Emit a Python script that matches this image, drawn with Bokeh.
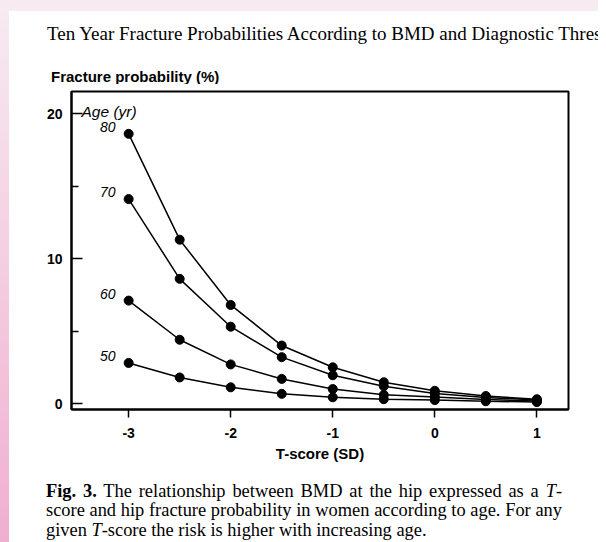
from bokeh.plotting import figure
from bokeh.models import FixedTicker, Label, Range1d, Div
from bokeh.layouts import column
from bokeh.embed import file_html
from bokeh.resources import INLINE
from bokeh.core.properties import value

# ---- data ----
t_score = [-3, -2.5, -2, -1.5, -1, -0.5, 0, 0.5, 1]
age_80 = [18.6, 11.3, 6.8, 4.0, 2.5, 1.47, 0.88, 0.52, 0.30]
age_70 = [14.1, 8.6, 5.3, 3.2, 1.95, 1.2, 0.70, 0.42, 0.24]
age_60 = [7.1, 4.4, 2.7, 1.7, 1.0, 0.6, 0.45, 0.28, 0.17]
age_50 = [2.8, 1.8, 1.12, 0.67, 0.43, 0.30, 0.24, 0.16, 0.10]
series = [("80", age_80), ("70", age_70), ("60", age_60), ("50", age_50)]

x_ticks = [-3, -2, -1, 0, 1]
x_tick_labels = ["-3", "-2", "-1", "0", "1"]
y_ticks = [0, 10, 20]
y_minor_ticks = [5, 15]

title_text = "Ten Year Fracture Probabilities According to BMD and Diagnostic Thresholds"
y_title = "Fracture probability (%)"
x_title = "T-score (SD)"
legend_title = "Age (yr)"
caption_lines = [
    "<b>Fig. 3.</b> The relationship between BMD at the hip expressed as a <i>T</i>-",
    "score and hip fracture probability in women according to age. For any",
    "given <i>T</i>-score the risk is higher with increasing age.",
]

SANS = "Liberation Sans"
SERIF = "Liberation Serif"
W = 598

# page decoration: pale pink top band and a pink strip down the left edge
TOP_BAND = "#f7ebf1"
def strip(c0, c1):
    return f"linear-gradient({c0},{c1}) 0 0/9px 100% no-repeat"

# ---- header (title + y-axis title) ----
header_bg = (f"linear-gradient({TOP_BAND},{TOP_BAND}) 0 0/100% 11px no-repeat, "
             f"{strip('rgb(247,235,241)', 'rgb(246,226,236)')}, white")
header_html = (
    f'<div style="position:relative;width:{W}px;height:84px;overflow:hidden;background:{header_bg}">'
    f'<div style="position:absolute;left:47px;top:23.6px;font-family:\'{SERIF}\';font-size:19px;'
    f'line-height:20px;white-space:nowrap;color:#000">{title_text}</div>'
    f'<div style="position:absolute;left:51px;top:68.3px;font-family:\'{SANS}\';font-weight:bold;'
    f'font-size:15px;line-height:17px;white-space:nowrap;color:#000">{y_title}</div>'
    '</div>'
)
header = Div(text=header_html, width=W, height=84, margin=(0, 0, 0, 0))

# ---- chart ----
p = figure(width=W, height=386, output_backend="svg", toolbar_location=None, title=None,
           x_range=Range1d(-3.56, 1.31), y_range=Range1d(-0.41, 21.52),
           min_border_left=71, min_border_right=30, min_border_top=7,
           min_border_bottom=61, margin=(0, 0, 0, 0))
p.background_fill_color = "white"
p.border_fill_color = None
p.styles = {"background": f"{strip('rgb(246,226,236)', 'rgb(241,183,212)')}, white"}
p.outline_line_color = "black"
p.outline_line_width = 2
p.xgrid.grid_line_color = None
p.ygrid.grid_line_color = None

ya = p.yaxis[0]
ya.ticker = FixedTicker(ticks=y_ticks, minor_ticks=y_minor_ticks)
ya.axis_line_width = 2
ya.major_tick_in = 11
ya.major_tick_out = 0
ya.minor_tick_in = 7
ya.minor_tick_out = 0
ya.major_tick_line_width = 1.5
ya.minor_tick_line_width = 1.5
ya.major_label_standoff = 9
ya.major_label_text_font = SANS
ya.major_label_text_font_style = "bold"
ya.major_label_text_font_size = "14px"
ya.major_label_text_color = "black"

xa = p.xaxis[0]
xa.ticker = FixedTicker(ticks=x_ticks)
xa.major_label_overrides = dict(zip(x_ticks, x_tick_labels))
xa.axis_line_width = 2
xa.major_tick_in = 0
xa.major_tick_out = 8
xa.major_tick_line_width = 1.5
xa.minor_tick_line_color = None
xa.major_label_standoff = 10
xa.major_label_text_font = SANS
xa.major_label_text_font_style = "bold"
xa.major_label_text_font_size = "14px"
xa.major_label_text_color = "black"
xa.axis_label = x_title
xa.axis_label_text_font = SANS
xa.axis_label_text_font_style = "bold"
xa.axis_label_text_font_size = "15px"
xa.axis_label_text_color = "black"
xa.axis_label_standoff = 4

for name, vals in series:
    p.line(t_score, vals, line_color="black", line_width=1.5)
    p.scatter(t_score, vals, size=9, fill_color="black", line_color="black")
    p.text(x=[t_score[0]], y=[vals[0]], text=[name], text_align="right",
           text_baseline="middle", x_offset=-13, y_offset=-7,
           text_font=value(SANS), text_font_style="italic",
           text_font_size="14px", text_color="black")

# "Age (yr)" inside the frame (screen units from frame bottom-left; frame = 318 px tall)
p.add_layout(Label(x=10, y=318 - 20, x_units="screen", y_units="screen",
                   text=legend_title, text_font=SANS, text_font_size="15.5px",
                   text_font_style="italic", text_baseline="alphabetic",
                   text_color="black"))

# ---- caption ----
line_style = (f"position:absolute;left:46px;font-family:'{SERIF}';font-size:18.4px;"
              "line-height:20px;white-space:nowrap;color:#000;")
just = "width:516px;text-align:justify;text-align-last:justify;"
tops = [10.8, 30.3, 49.8]
cap_bg = f"{strip('rgb(241,183,212)', 'rgb(240,175,207)')}, white"
cap_html = f'<div style="position:relative;width:{W}px;height:72px;background:{cap_bg}">'
for i, (txt, top) in enumerate(zip(caption_lines, tops)):
    extra = just if i < 2 else ""
    cap_html += f'<div style="{line_style}{extra}top:{top}px">{txt}</div>'
cap_html += '</div>'
caption = Div(text=cap_html, width=W, height=72, margin=(0, 0, 0, 0))

layout = column(header, p, caption, spacing=0)
open("out.html", "w").write(file_html(layout, INLINE))
